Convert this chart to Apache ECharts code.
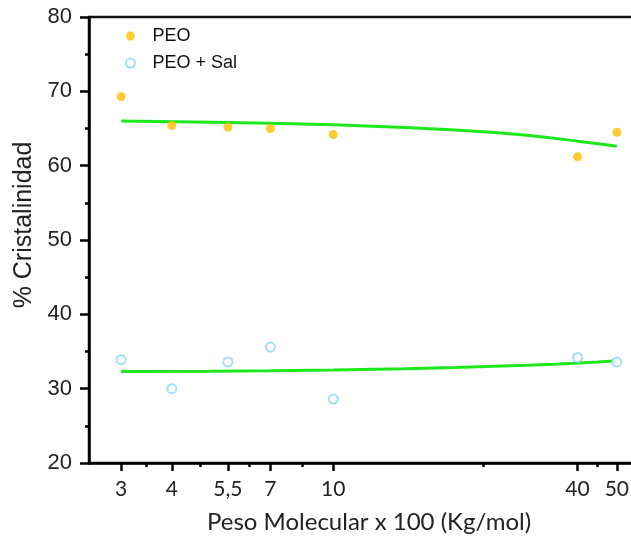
<!DOCTYPE html>
<html>
<head>
<meta charset="utf-8">
<script src="https://cdn.jsdelivr.net/npm/echarts@6/dist/echarts.min.js"></script>
<style>html,body{margin:0;padding:0;background:#fff}#c{width:631px;height:539px}</style>
</head>
<body>
<div id="c"></div>
<script>
const xMajorTicks = [3, 4, 5.5, 7, 10, 40, 50];
const xMinorTicks = [3.46, 4.69, 6.2, 8.37, 23.4, 44.7];
const pesoX = [3, 4, 5.5, 7, 10, 40, 50];
const peoValues = [69.3, 65.4, 65.2, 65.0, 64.2, 61.2, 64.5];
const peoSalValues = [33.9, 30.0, 33.6, 35.6, 28.6, 34.2, 33.6];
const fitX = [3, 5, 7, 10, 15, 20, 25, 30, 35, 40, 45, 50];
const peoFit = [66.0, 65.85, 65.7, 65.5, 65.15, 64.8, 64.45, 64.1, 63.7, 63.3, 62.95, 62.6];
const peoSalFit = [32.3, 32.35, 32.42, 32.5, 32.68, 32.85, 33.0, 33.15, 33.3, 33.45, 33.6, 33.75];

const pairs = (xs, ys) => xs.map((x, i) => [x, ys[i]]);
const chart = echarts.init(document.getElementById('c'), null, {renderer: 'canvas'});
const axisColor = '#000';
chart.setOption({
  animation: false,
  grid: {left: 89, top: 17, width: 560, bottom: 76, show: true, borderColor: '#111', borderWidth: 2.5,
    backgroundColor: 'transparent', outerBoundsMode: 'none', containLabel: false},
  legend: {
    left: 120, top: 22, orient: 'vertical', itemGap: 9, itemWidth: 34, itemHeight: 9,
    textStyle: {fontFamily: 'Liberation Sans', fontSize: 18, color: '#111'},
    data: ['PEO', 'PEO + Sal']
  },
  xAxis: [{
    type: 'log', min: 2.5, max: 60, position: 'bottom',
    axisLine: {show: true, lineStyle: {color: axisColor, width: 2.5}},
    axisTick: {show: true, customValues: xMajorTicks, length: 8, lineStyle: {color: axisColor, width: 2.5}},
    axisLabel: {show: true, customValues: xMajorTicks, margin: 16, fontFamily: 'Lato', fontSize: 21, color: '#222',
      formatter: v => String(v).replace('.', ',')},
    splitLine: {show: false},
    name: 'Peso Molecular x 100 (Kg/mol)', nameLocation: 'middle', nameGap: 47,
    nameTextStyle: {fontFamily: 'Lato', fontSize: 24, color: '#222'}
  }, {
    type: 'log', min: 2.5, max: 60, position: 'bottom',
    axisLine: {show: false},
    axisTick: {show: true, customValues: xMinorTicks, length: 4, lineStyle: {color: axisColor, width: 2.5}},
    axisLabel: {show: false},
    splitLine: {show: false}
  }],
  yAxis: {
    type: 'value', min: 20, max: 80, interval: 10,
    axisLine: {show: true, lineStyle: {color: axisColor, width: 2.5}},
    axisTick: {show: true, length: 9, lineStyle: {color: axisColor, width: 2.5}},
    minorTick: {show: true, splitNumber: 2, length: 4, lineStyle: {color: axisColor, width: 2.5}},
    axisLabel: {margin: 17, fontFamily: 'Liberation Sans', fontSize: 22, color: '#222'},
    splitLine: {show: false},
    name: '% Cristalinidad', nameLocation: 'middle', nameGap: 49, nameRotate: 90,
    nameTextStyle: {fontFamily: 'Liberation Sans', fontSize: 25, color: '#222', padding: [0, 0, 0, 30]}
  },
  series: [{
    name: 'PEO fit', type: 'line', data: pairs(fitX, peoFit), showSymbol: false, symbol: 'none',
    lineStyle: {color: '#1de81d', width: 3}, z: 1
  }, {
    name: 'PEO + Sal fit', type: 'line', data: pairs(fitX, peoSalFit), showSymbol: false, symbol: 'none',
    lineStyle: {color: '#1de81d', width: 3}, z: 1
  }, {
    name: 'PEO', type: 'scatter', data: pairs(pesoX, peoValues), symbol: 'circle', symbolSize: 9,
    itemStyle: {color: '#FFC000'}, z: 3
  }, {
    name: 'PEO + Sal', type: 'scatter', data: pairs(pesoX, peoSalValues), symbol: 'emptyCircle', symbolSize: 9,
    itemStyle: {color: '#8FD6EE', borderColor: '#8FD6EE', borderWidth: 1.5}, z: 3
  }]
});
</script>
</body>
</html>
